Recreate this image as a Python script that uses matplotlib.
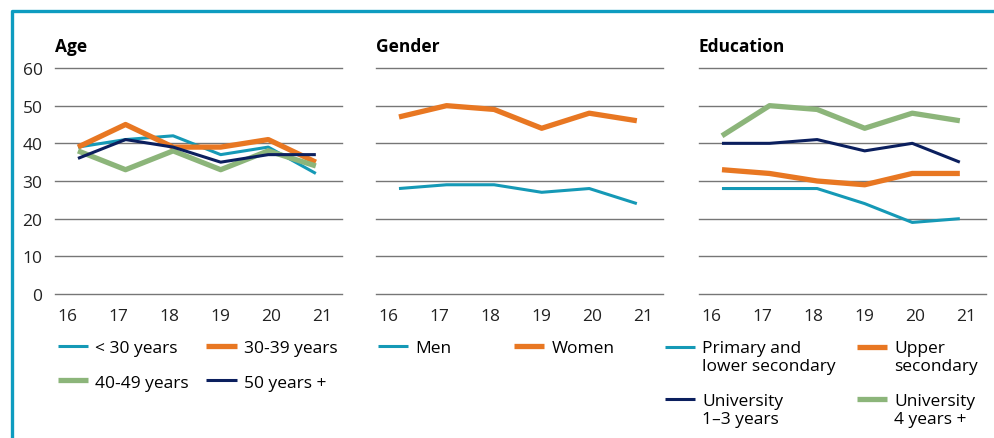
import matplotlib.pyplot as plt
import numpy as np
from matplotlib.lines import Line2D
from matplotlib.legend_handler import HandlerLine2D

plt.rcParams['font.family'] = ['Open Sans', 'DejaVu Sans']

# === MARK: Data
years = ['16', '17', '18', '19', '20', '21']

age_under30 = [39, 41, 42, 37, 39, 32]
age_30_39 = [39, 45, 39, 39, 41, 35]
age_40_49 = [38, 33, 38, 33, 38, 34]
age_50plus = [36, 41, 39, 35, 37, 37]

men = [28, 29, 29, 27, 28, 24]
women = [47, 50, 49, 44, 48, 46]

edu_primary = [28, 28, 28, 24, 19, 20]
edu_upper = [33, 32, 30, 29, 32, 32]
edu_uni_1_3 = [40, 40, 41, 38, 40, 35]
edu_uni_4 = [42, 50, 49, 44, 48, 46]

# colours and widths
TEAL = '#1599b6'
ORANGE = '#e87722'
GREEN = '#8cb57a'
NAVY = '#0b1f5e'
THIN = 2.2
THICK = 3.8
FS = 12.5

panels = [
    ('Age', 55, [
        ('< 30 years', age_under30, TEAL, THIN),
        ('30-39 years', age_30_39, ORANGE, THICK),
        ('40-49 years', age_40_49, GREEN, THICK),
        ('50 years +', age_50plus, NAVY, THIN),
    ]),
    ('Gender', 376, [
        ('Men', men, TEAL, THIN),
        ('Women', women, ORANGE, THICK),
    ]),
    ('Education', 699, [
        ('Primary and\nlower secondary', edu_primary, TEAL, THIN),
        ('Upper\nsecondary', edu_upper, ORANGE, THICK),
        ('University\n1\u20133 years', edu_uni_1_3, NAVY, THIN),
        ('University\n4 years +', edu_uni_4, GREEN, THICK),
    ]),
]
legend_left = [58, 378, 665]
legend_spacing = [1.0, 3.6, 1.2]


# put the legend line next to the first line of a two-line label
class FirstLineHandler(HandlerLine2D):
    def create_artists(self, legend, orig_handle, xdescent, ydescent,
                       width, height, fontsize, trans):
        artists = super().create_artists(legend, orig_handle, xdescent, ydescent,
                                         width, height, fontsize, trans)
        if '\n' in orig_handle.get_label():
            for a in artists:
                a.set_ydata(np.asarray(a.get_ydata()) + 0.6 * fontsize)
        return artists


W, H = 995, 439
fig = plt.figure(figsize=(W / 100, H / 100), dpi=100)

x = np.arange(len(years))
for i, (title, left, series) in enumerate(panels):
    ax = fig.add_axes([left / W, 1 - 295 / H, 287 / W, 226 / H])
    for label, vals, col, lw in series:
        ax.plot(x, vals, color=col, lw=lw, label=label, solid_capstyle='butt')
    ax.set_ylim(0, 60)
    ax.set_xlim(-0.483, 5.55)
    ax.set_yticks(range(0, 61, 10))
    ax.yaxis.grid(True, color='#767676', lw=1.0)
    ax.set_axisbelow(True)
    for sp in ax.spines.values():
        sp.set_visible(False)
    ax.set_xticks(np.linspace(-0.23, 5.13, 6))
    ax.set_xticklabels(years)
    ax.tick_params(length=0, labelsize=FS, colors='#222222')
    ax.tick_params(axis='x', pad=10)
    if i > 0:
        ax.set_yticklabels([])
    else:
        ax.tick_params(axis='y', pad=9)
    for gl in ax.get_ygridlines():
        gl.set_clip_on(False)
    ax.text(0, 1 + 22 / 226, title, transform=ax.transAxes, fontsize=FS,
            fontweight='bold', va='center', ha='left')

    handles, labels = ax.get_legend_handles_labels()
    # column-major order so entries read row by row
    order = [0, 2, 1, 3] if len(handles) == 4 else [0, 1]
    fig.legend([handles[k] for k in order], [labels[k] for k in order],
               loc='upper left', bbox_to_anchor=(legend_left[i] / W, 1 - 341 / H),
               ncol=2, frameon=False, fontsize=FS, borderpad=0, borderaxespad=0,
               handlelength=1.75, handletextpad=0.4, labelspacing=1.05,
               columnspacing=legend_spacing[i],
               handler_map={Line2D: FirstLineHandler()})

# teal frame on top and left
fig.add_artist(Line2D([12 / W, 12 / W, 1], [0, 1 - 12 / H, 1 - 12 / H],
                      color='#0e9cc0', lw=2.4, transform=fig.transFigure))

fig.savefig('out.png', dpi=100)
